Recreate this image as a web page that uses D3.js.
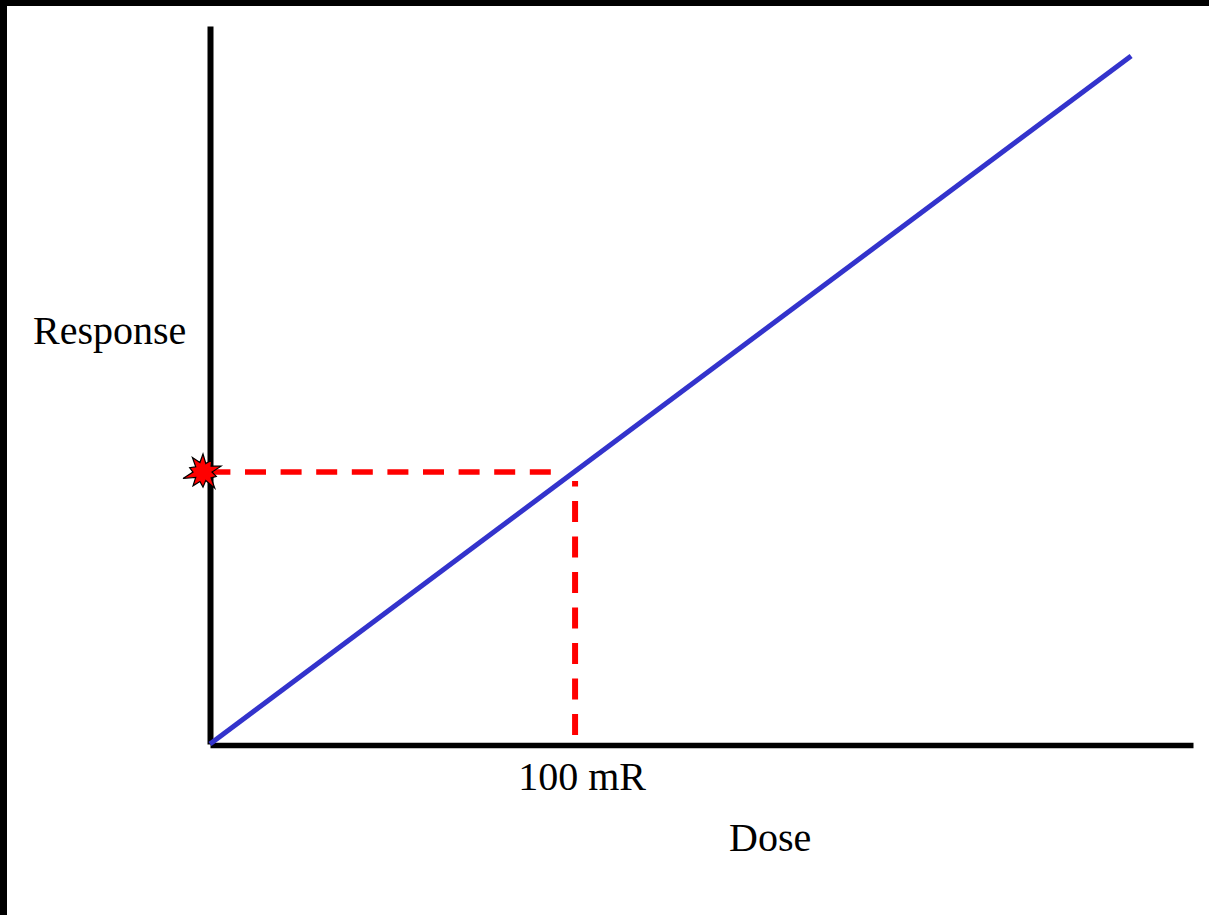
<!DOCTYPE html>
<html>
<head>
<meta charset="utf-8">
<script src="https://cdn.jsdelivr.net/npm/d3@7"></script>
<style>
  html, body { margin: 0; padding: 0; background: #fff; }
  svg { display: block; }
  text { font-family: "Liberation Serif", "Times New Roman", serif; fill: #000; }
</style>
</head>
<body>
<svg id="chart" width="1209" height="915"></svg>
<script>
// Linear dose-response (no threshold) data
const doseDomain = [0, 270];
const responseDomain = [0, 264];
const doses = [0, 253];
const responses = [0, 253];
const markDose = [100];
const markResponse = [100];
const doseTickLabels = ["100 mR"];
const axisTitles = ["Dose", "Response"];

// Spiky "burst" radii for the marker on the response axis
const burstRadii = [18, 9, 15, 10, 19, 9, 14, 10, 20, 9, 15, 10, 17, 9, 21, 10, 14, 9, 18, 10];

const svg = d3.select("#chart");
const W = 1209, H = 915;

// Page frame (top and left edges)
svg.append("rect").attr("x", 0).attr("y", 0).attr("width", W).attr("height", 6).attr("fill", "#000");
svg.append("rect").attr("x", 0).attr("y", 0).attr("width", 7).attr("height", H).attr("fill", "#000");

const x = d3.scaleLinear().domain(doseDomain).range([210, 1193]);
const y = d3.scaleLinear().domain(responseDomain).range([744, 26]);

// Axes: plain lines, no ticks
const xAxis = svg.append("g").attr("transform", "translate(0,745)")
  .call(d3.axisBottom(x).tickValues([]).tickSizeOuter(0));
xAxis.select(".domain").attr("stroke", "#000").attr("stroke-width", 5.4);

const yAxis = svg.append("g").attr("transform", "translate(210,0)")
  .call(d3.axisLeft(y).tickValues([]).tickSizeOuter(0));
yAxis.select(".domain").attr("stroke", "#000").attr("stroke-width", 6);

// Tick label under the dose axis
svg.append("g").selectAll("text").data(markDose).join("text")
  .attr("x", d => x(d) + 8)
  .attr("y", 790)
  .attr("text-anchor", "middle")
  .attr("font-size", 40)
  .text((d, i) => doseTickLabels[i]);

// Axis titles
svg.append("text").attr("x", 729).attr("y", 851).attr("font-size", 40).text(axisTitles[0]);
svg.append("text").attr("x", 33).attr("y", 344).attr("font-size", 40).text(axisTitles[1]);

// Red dashed guides from the marked dose
const guides = svg.append("g").attr("stroke", "#ff0000").attr("fill", "none");
guides.selectAll("line.h").data(markResponse).join("line")
  .attr("class", "h")
  .attr("x1", 209.4).attr("x2", d => x(markDose[0]) - 19)
  .attr("y1", d => y(d)).attr("y2", d => y(d))
  .attr("stroke-width", 5.6)
  .attr("stroke-dasharray", "21,14.6");
guides.selectAll("line.v").data(markDose).join("line")
  .attr("class", "v")
  .attr("x1", d => x(d) + 1).attr("x2", d => x(d) + 1)
  .attr("y1", y(markResponse[0]) + 9).attr("y2", 742)
  .attr("stroke-width", 6)
  .attr("stroke-dasharray", "21,14.5")
  .attr("stroke-dashoffset", 15.5);

// Response line
const line = d3.line().x(d => x(d[0])).y(d => y(d[1]));
svg.append("path")
  .datum(doses.map((d, i) => [d, responses[i]]))
  .attr("d", line)
  .attr("fill", "none")
  .attr("stroke", "#3333cc")
  .attr("stroke-width", 5);

// Burst marker where the guide meets the response axis
const cx = 203, cy = y(markResponse[0]);
const n = burstRadii.length;
const burstPts = burstRadii.map((r, i) => {
  const a = -Math.PI / 2 + i * 2 * Math.PI / n;
  return [cx + r * Math.cos(a), cy + r * Math.sin(a)];
});
svg.append("path")
  .attr("d", d3.line().curve(d3.curveLinearClosed)(burstPts))
  .attr("fill", "#ff0000")
  .attr("stroke", "#000")
  .attr("stroke-width", 1.2)
  .attr("stroke-linejoin", "miter");
</script>
</body>
</html>
